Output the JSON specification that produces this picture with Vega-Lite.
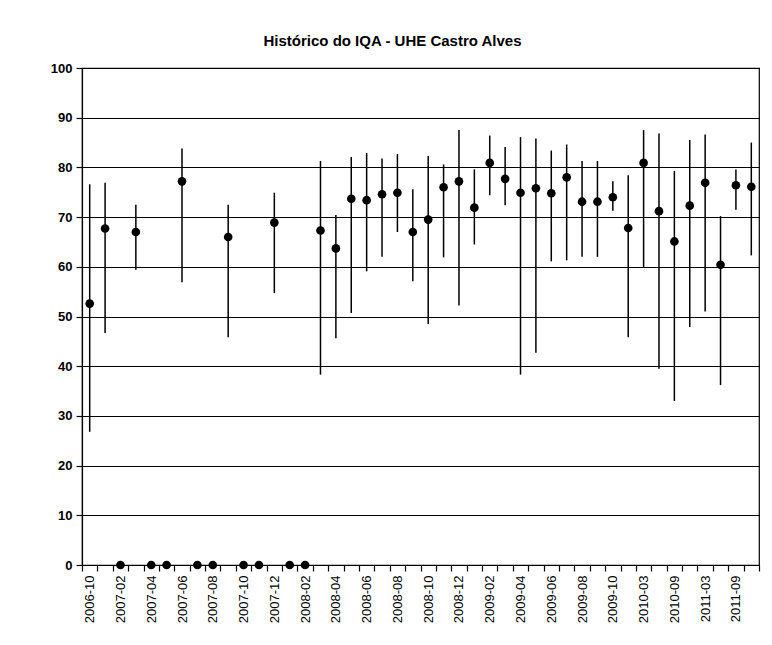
{
  "$schema": "https://vega.github.io/schema/vega-lite/v6.json",
  "width": 677,
  "height": 497,
  "autosize": {"type": "none"},
  "padding": {"left": 82, "top": 68, "right": 13, "bottom": 80},
  "background": "white",
  "title": {
    "text": "Histórico do IQA - UHE Castro Alves",
    "font": "Liberation Sans",
    "fontSize": 15,
    "fontWeight": "bold",
    "color": "black",
    "anchor": "middle",
    "offset": 13,
    "dx": -28
  },
  "data": {
    "values": [
      {"mes": "2006-10", "iqa": 52.6, "min": 26.8, "max": 76.6},
      {"mes": "2006-12", "iqa": 67.7, "min": 46.7, "max": 76.9},
      {"mes": "2007-02", "iqa": 0, "min": null, "max": null},
      {"mes": "2007-03", "iqa": 67.0, "min": 59.4, "max": 72.5},
      {"mes": "2007-04", "iqa": 0, "min": null, "max": null},
      {"mes": "2007-05", "iqa": 0, "min": null, "max": null},
      {"mes": "2007-06", "iqa": 77.2, "min": 56.9, "max": 83.8},
      {"mes": "2007-07", "iqa": 0, "min": null, "max": null},
      {"mes": "2007-08", "iqa": 0, "min": null, "max": null},
      {"mes": "2007-09", "iqa": 66.0, "min": 45.8, "max": 72.5},
      {"mes": "2007-10", "iqa": 0, "min": null, "max": null},
      {"mes": "2007-11", "iqa": 0, "min": null, "max": null},
      {"mes": "2007-12", "iqa": 68.9, "min": 54.7, "max": 74.9},
      {"mes": "2008-01", "iqa": 0, "min": null, "max": null},
      {"mes": "2008-02", "iqa": 0, "min": null, "max": null},
      {"mes": "2008-03", "iqa": 67.3, "min": 38.3, "max": 81.3},
      {"mes": "2008-04", "iqa": 63.7, "min": 45.6, "max": 70.4},
      {"mes": "2008-05", "iqa": 73.7, "min": 50.7, "max": 82.1},
      {"mes": "2008-06", "iqa": 73.4, "min": 59.1, "max": 82.9},
      {"mes": "2008-07", "iqa": 74.6, "min": 62.0, "max": 81.8},
      {"mes": "2008-08", "iqa": 74.9, "min": 67.0, "max": 82.7},
      {"mes": "2008-09", "iqa": 67.0, "min": 57.1, "max": 75.6},
      {"mes": "2008-10", "iqa": 69.5, "min": 48.5, "max": 82.3},
      {"mes": "2008-11", "iqa": 76.0, "min": 61.9, "max": 80.6},
      {"mes": "2008-12", "iqa": 77.2, "min": 52.2, "max": 87.5},
      {"mes": "2009-01", "iqa": 71.9, "min": 64.5, "max": 79.6},
      {"mes": "2009-02", "iqa": 80.9, "min": 74.4, "max": 86.4},
      {"mes": "2009-03", "iqa": 77.7, "min": 72.4, "max": 84.1},
      {"mes": "2009-04", "iqa": 74.9, "min": 38.3, "max": 86.1},
      {"mes": "2009-05", "iqa": 75.8, "min": 42.7, "max": 85.8},
      {"mes": "2009-06", "iqa": 74.8, "min": 61.1, "max": 83.4},
      {"mes": "2009-07", "iqa": 78.0, "min": 61.3, "max": 84.6},
      {"mes": "2009-08", "iqa": 73.1, "min": 62.0, "max": 81.3},
      {"mes": "2009-09", "iqa": 73.1, "min": 62.0, "max": 81.3},
      {"mes": "2009-10", "iqa": 74.0, "min": 71.3, "max": 77.2},
      {"mes": "2009-12", "iqa": 67.8, "min": 45.8, "max": 78.4},
      {"mes": "2010-03", "iqa": 80.9, "min": 59.9, "max": 87.5},
      {"mes": "2010-06", "iqa": 71.2, "min": 39.5, "max": 86.8},
      {"mes": "2010-09", "iqa": 65.1, "min": 33.0, "max": 79.3},
      {"mes": "2010-12", "iqa": 72.3, "min": 47.9, "max": 85.5},
      {"mes": "2011-03", "iqa": 76.9, "min": 51.0, "max": 86.6},
      {"mes": "2011-06", "iqa": 60.4, "min": 36.2, "max": 70.2},
      {"mes": "2011-09", "iqa": 76.4, "min": 71.5, "max": 79.6},
      {"mes": "2011-12", "iqa": 76.1, "min": 62.3, "max": 85.0}
    ]
  },
  "encoding": {
    "x": {
      "field": "mes",
      "type": "ordinal",
      "sort": "ascending",
      "scale": {"type": "band", "paddingInner": 0, "paddingOuter": 0},
      "axis": {
        "title": null,
        "tickBand": "extent",
        "labelAngle": -90,
        "labelOverlap": false,
        "labelFont": "Liberation Sans",
        "labelFontSize": 13,
        "labelColor": "black",
        "labelPadding": 4,
        "tickColor": "black",
        "tickSize": 6,
        "tickWidth": 1.2,
        "domainColor": "black",
        "domainWidth": 1.2,
        "grid": false,
        "labelExpr": "indexof(['2006-10','2007-02','2007-04','2007-06','2007-08','2007-10','2007-12','2008-02','2008-04','2008-06','2008-08','2008-10','2008-12','2009-02','2009-04','2009-06','2009-08','2009-10','2010-03','2010-09','2011-03','2011-09'], datum.value) >= 0 ? datum.label : ''"
      }
    }
  },
  "layer": [
    {
      "transform": [{"filter": "datum.min != null"}],
      "mark": {"type": "rule", "color": "black", "strokeWidth": 1.5},
      "encoding": {
        "y": {
          "field": "min",
          "type": "quantitative",
          "scale": {"domain": [0, 100], "nice": false},
          "axis": {
            "title": null,
            "values": [0, 10, 20, 30, 40, 50, 60, 70, 80, 90, 100],
            "grid": true,
            "gridColor": "black",
            "gridOpacity": 1,
            "gridWidth": 1.2,
            "tickColor": "black",
            "tickSize": 6,
            "tickWidth": 1.2,
            "domainColor": "black",
            "domainWidth": 1.2,
            "labelFont": "Liberation Sans",
            "labelFontSize": 13,
            "labelFontWeight": "bold",
            "labelColor": "black",
            "labelPadding": 4
          }
        },
        "y2": {"field": "max"}
      }
    },
    {
      "mark": {"type": "point", "filled": true, "color": "black", "opacity": 1, "size": 75},
      "encoding": {
        "y": {"field": "iqa", "type": "quantitative"}
      }
    }
  ],
  "config": {
    "view": {"stroke": "black", "strokeWidth": 1.2}
  }
}
